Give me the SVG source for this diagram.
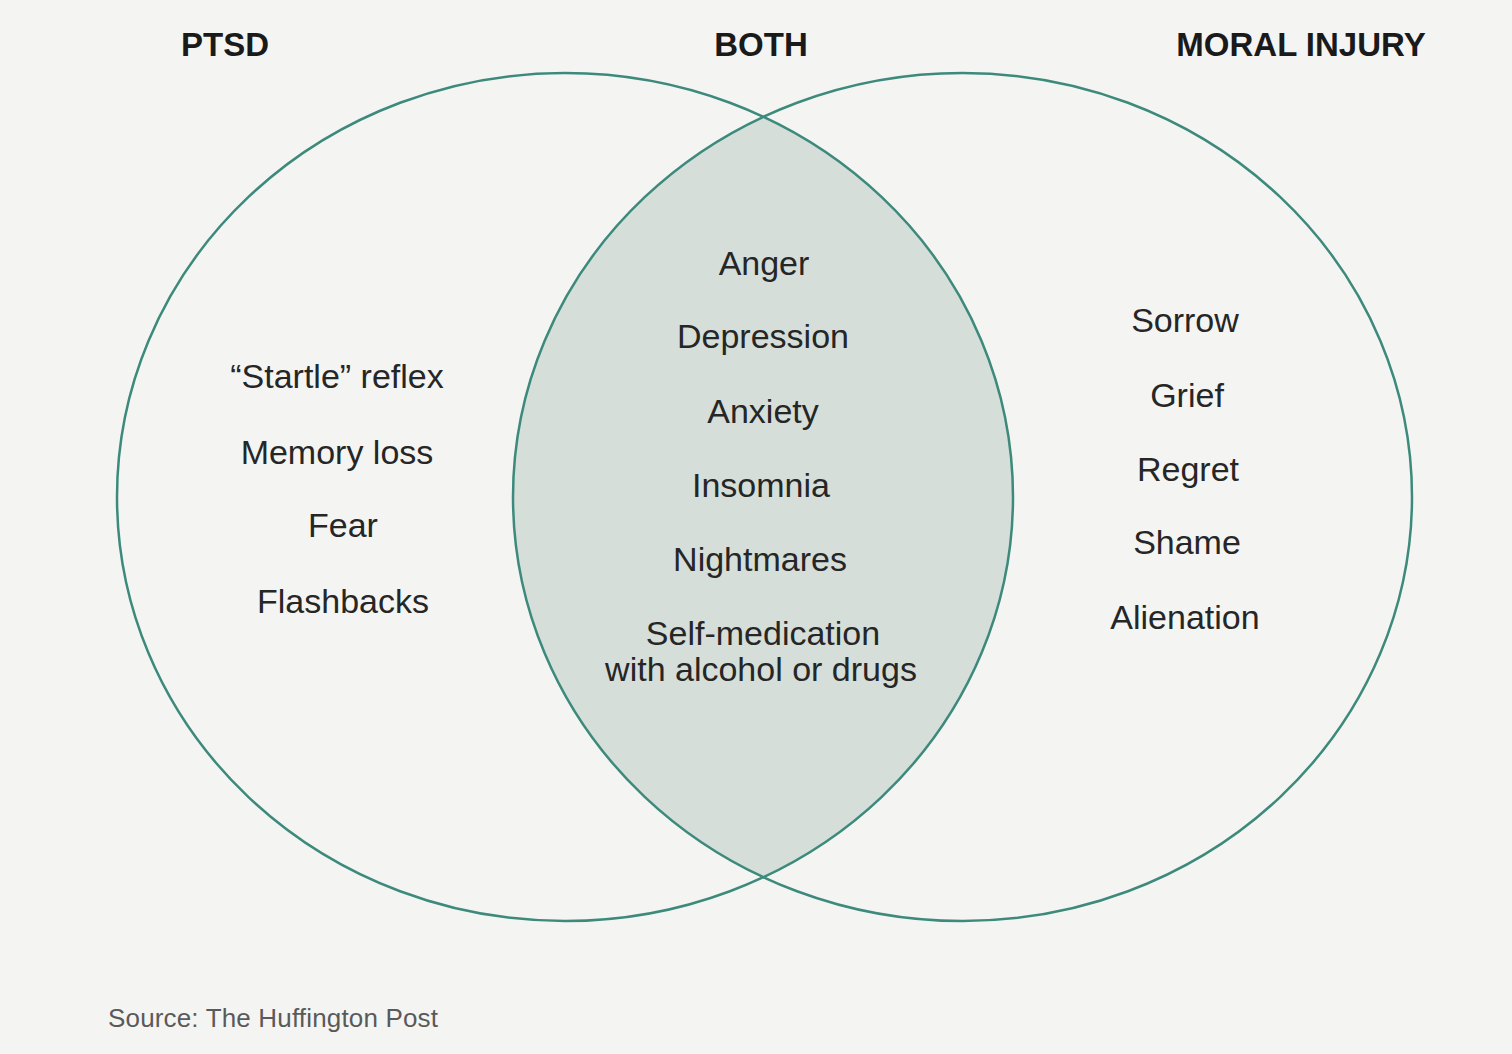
<svg xmlns="http://www.w3.org/2000/svg" width="1512" height="1054" viewBox="0 0 1512 1054">
  <style>
    .ring { fill: none; stroke: #3d8a7c; stroke-width: 2.5; }
    .head { font-family: "Liberation Sans", Arial, sans-serif; font-weight: bold; font-size: 33px; fill: #1a1a1a; text-anchor: middle; }
    .item { font-family: "Liberation Sans", Arial, sans-serif; font-size: 34px; fill: #262626; text-anchor: middle; }
    .src { font-family: "Liberation Sans", Arial, sans-serif; font-size: 26px; fill: #5a5a5a; }
  </style>
  <defs>
    <clipPath id="leftSet">
      <ellipse cx="565" cy="497" rx="448" ry="424"/>
    </clipPath>
  </defs>
  <rect width="1512" height="1054" fill="#f4f5f3"/>

  <!-- overlap region -->
  <ellipse cx="962.5" cy="497" rx="449.5" ry="424" fill="#d5ded9" clip-path="url(#leftSet)"/>

  <g id="circles">
    <ellipse id="ptsd-circle" class="ring" cx="565" cy="497" rx="448" ry="424"/>
    <ellipse id="moral-circle" class="ring" cx="962.5" cy="497" rx="449.5" ry="424"/>
  </g>

  <g id="headings">
    <text class="head" x="225" y="56">PTSD</text>
    <text class="head" x="761" y="56">BOTH</text>
    <text class="head" x="1301" y="56">MORAL INJURY</text>
  </g>

  <g id="ptsd">
    <text class="item" x="337" y="388">“Startle” reflex</text>
    <text class="item" x="337" y="464">Memory loss</text>
    <text class="item" x="343" y="537">Fear</text>
    <text class="item" x="343" y="613">Flashbacks</text>
  </g>

  <g id="both">
    <text class="item" x="764" y="275">Anger</text>
    <text class="item" x="763" y="348">Depression</text>
    <text class="item" x="763" y="423">Anxiety</text>
    <text class="item" x="761" y="497">Insomnia</text>
    <text class="item" x="760" y="571">Nightmares</text>
    <text class="item" x="763" y="645">Self-medication</text>
    <text class="item" x="761" y="681">with alcohol or drugs</text>
  </g>

  <g id="moral-injury">
    <text class="item" x="1185" y="332">Sorrow</text>
    <text class="item" x="1187" y="407">Grief</text>
    <text class="item" x="1188" y="481">Regret</text>
    <text class="item" x="1187" y="554">Shame</text>
    <text class="item" x="1185" y="629">Alienation</text>
  </g>

  <text class="src" x="108" y="1027" textLength="330" lengthAdjust="spacing">Source: The Huffington Post</text>
</svg>
